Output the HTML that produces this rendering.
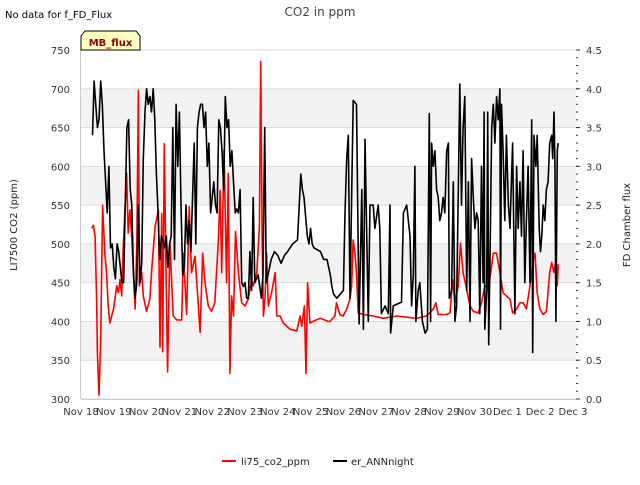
<!DOCTYPE html>
<html><head><meta charset="utf-8"><style>
body{margin:0;background:#fff;}
svg text{font-family:"DejaVu Sans","Liberation Sans",sans-serif;}
</style></head><body>
<svg id="chart" width="640" height="480" xmlns="http://www.w3.org/2000/svg">
<text x="5" y="18" font-size="10" fill="#000">No data for f_FD_Flux</text>
<text x="320" y="16" font-size="12" text-anchor="middle" fill="#444">CO2 in ppm</text>
<g id="bands"></g>
<g id="grid"></g>
<g id="series"></g>
<g id="axes"></g>
<g>
<path d="M81,50 L81,36 L85,31 L136,31 L140,36 L140,50 Z" fill="#ffffc0" stroke="#000" stroke-width="1"/>
<text x="110.5" y="46" font-size="10" font-weight="bold" text-anchor="middle" fill="#8b0000">MB_flux</text>
</g>
<text transform="translate(17,225) rotate(-90)" font-size="10" text-anchor="middle" fill="#222">LI7500 CO2 (ppm)</text>
<text transform="translate(630,225) rotate(-90)" font-size="10" text-anchor="middle" fill="#222">FD Chamber flux</text>
<g>
<g><line x1="222" y1="461" x2="236" y2="461" stroke="#f00" stroke-width="2"/><text x="241" y="465" font-size="10" fill="#222">li75_co2_ppm</text></g>
<g><line x1="333" y1="461" x2="347" y2="461" stroke="#000" stroke-width="2"/><text x="351" y="465" font-size="10" fill="#222">er_ANNnight</text></g>
</g>
</svg>
<script>
const xTickLabels=["Nov 18","Nov 19","Nov 20","Nov 21","Nov 22","Nov 23","Nov 24","Nov 25","Nov 26","Nov 27","Nov 28","Nov 29","Nov 30","Dec 1","Dec 2","Dec 3"];
const leftTicks=[300,350,400,450,500,550,600,650,700,750];
const rightTicks=[0.0,0.5,1.0,1.5,2.0,2.5,3.0,3.5,4.0,4.5];
const redDays=[0.33,0.38,0.43,0.48,0.50,0.55,0.6,0.66,0.73,0.78,0.83,0.88,0.99,1.09,1.14,1.19,1.24,1.29,1.39,1.44,1.49,1.54,1.6,1.65,1.7,1.75,1.78,1.85,1.9,2.0,2.1,2.15,2.26,2.36,2.41,2.46,2.49,2.54,2.59,2.64,2.71,2.81,2.92,3.07,3.12,3.22,3.3,3.37,3.48,3.53,3.63,3.71,3.78,3.88,3.98,4.08,4.19,4.24,4.29,4.36,4.44,4.49,4.54,4.59,4.65,4.71,4.8,4.9,5.0,5.1,5.2,5.25,5.36,5.44,5.48,5.52,5.56,5.61,5.66,5.71,5.81,5.92,5.97,6.07,6.17,6.37,6.58,6.68,6.73,6.81,6.86,6.91,6.98,7.08,7.29,7.54,7.59,7.74,7.79,7.89,7.99,8.1,8.2,8.25,8.3,8.35,8.4,8.45,8.61,8.91,9.22,9.62,10.23,10.54,10.74,10.82,10.89,11.15,11.25,11.33,11.4,11.5,11.57,11.65,11.76,11.86,11.96,12.11,12.21,12.31,12.42,12.49,12.57,12.67,12.77,12.87,12.97,13.08,13.16,13.28,13.38,13.48,13.58,13.69,13.77,13.84,13.91,13.99,14.09,14.19,14.29,14.35,14.42,14.48,14.52,14.55];
const redPpm=[520,524,509,424,359,305,376,550,486,463,420,398,416,446,437,454,433,497,591,514,544,514,463,416,497,698,446,463,433,413,429,463,522,544,367,539,361,629,463,335,503,407,402,402,488,409,548,463,484,450,386,488,450,420,413,424,505,569,463,621,450,591,333,433,407,516,463,424,420,429,454,446,463,522,735,514,407,429,488,420,437,463,407,407,398,390,388,407,394,420,333,450,398,400,404,400,400,407,424,409,407,416,429,446,505,488,463,411,409,407,404,407,404,407,416,424,409,409,411,454,424,446,501,463,441,420,413,411,424,446,443,463,488,488,463,437,433,429,411,416,424,424,416,446,476,488,437,416,409,413,463,476,463,480,446,474];
const blackDays=[0.35,0.4,0.5,0.55,0.6,0.65,0.7,0.75,0.8,0.85,0.9,0.95,1.0,1.05,1.1,1.15,1.25,1.3,1.4,1.45,1.5,1.55,1.6,1.65,1.7,1.75,1.8,1.85,1.9,1.95,2.0,2.05,2.1,2.15,2.2,2.25,2.3,2.35,2.4,2.45,2.5,2.55,2.6,2.65,2.7,2.75,2.8,2.85,2.9,2.95,3.0,3.05,3.1,3.15,3.2,3.25,3.3,3.35,3.45,3.5,3.55,3.6,3.65,3.7,3.75,3.8,3.85,3.9,3.95,4.0,4.05,4.1,4.15,4.2,4.25,4.3,4.35,4.4,4.45,4.5,4.55,4.6,4.65,4.7,4.75,4.8,4.85,4.9,4.95,5.0,5.05,5.1,5.15,5.2,5.25,5.3,5.4,5.5,5.55,5.6,5.65,5.7,5.8,5.9,6.0,6.1,6.2,6.3,6.45,6.6,6.7,6.75,6.8,6.9,6.95,7.0,7.05,7.1,7.3,7.4,7.5,7.6,7.65,7.7,7.8,7.9,8.0,8.05,8.1,8.15,8.2,8.3,8.4,8.48,8.56,8.61,8.66,8.76,8.81,8.91,8.96,9.06,9.11,9.16,9.27,9.37,9.42,9.44,9.52,9.77,9.83,9.93,10.03,10.08,10.13,10.18,10.21,10.28,10.33,10.41,10.49,10.56,10.62,10.66,10.69,10.74,10.79,10.84,10.89,10.94,10.99,11.04,11.09,11.15,11.2,11.23,11.3,11.35,11.4,11.45,11.5,11.55,11.6,11.65,11.7,11.76,11.81,11.86,11.91,11.96,12.01,12.06,12.11,12.16,12.21,12.26,12.29,12.31,12.37,12.4,12.43,12.47,12.52,12.57,12.62,12.67,12.72,12.77,12.79,12.82,12.87,12.92,12.97,13.03,13.08,13.16,13.23,13.28,13.33,13.38,13.43,13.48,13.53,13.58,13.63,13.69,13.74,13.77,13.81,13.87,13.91,13.97,14.01,14.05,14.09,14.14,14.19,14.24,14.29,14.35,14.38,14.42,14.45,14.48,14.52,14.55];
const blackFlux=[3.4,4.1,3.5,3.6,4.1,3.8,3.2,2.8,2.4,3.0,1.95,2.0,1.7,1.55,2.0,1.9,1.5,1.5,3.5,3.6,2.7,2.5,1.6,1.3,1.5,2.5,1.5,1.75,3.1,3.7,4.0,3.8,3.9,3.7,4.0,3.6,2.9,2.4,1.8,2.1,2.05,1.95,2.1,1.7,2.0,2.1,3.5,1.8,3.8,3.0,3.7,2.5,1.6,1.7,2.5,2.0,2.3,1.9,3.3,2.0,3.5,3.7,3.8,3.8,3.5,3.7,3.0,3.3,2.4,2.6,2.8,2.5,2.4,3.6,3.5,3.2,2.7,3.9,3.5,3.6,3.0,3.2,2.8,2.4,2.45,2.4,2.7,1.5,1.45,1.5,1.3,1.3,1.9,1.4,2.6,1.5,1.6,1.3,1.6,3.5,1.5,1.6,1.8,1.9,1.85,1.75,1.85,1.9,2.0,2.05,2.9,2.7,2.6,2.1,2.0,2.2,2.0,1.95,1.9,1.8,1.8,1.6,1.45,1.35,1.3,1.35,1.4,2.4,3.1,3.4,1.3,3.85,3.8,0.97,2.7,0.9,3.35,1.0,2.5,2.5,2.2,2.5,2.2,1.1,1.2,1.1,2.5,0.85,1.2,1.25,2.4,2.5,2.1,1.2,1.6,3.0,1.0,1.4,1.5,1.0,0.85,0.9,3.68,1.0,3.3,3.0,3.2,2.7,2.6,2.3,2.4,2.6,2.4,3.2,3.3,1.3,1.4,2.8,1.0,1.2,2.6,4.06,2.5,3.5,3.9,1.4,2.8,1.0,3.1,2.6,2.2,2.4,2.3,1.1,3.0,1.5,3.7,0.9,1.4,3.7,0.7,1.8,3.5,3.8,3.3,3.9,3.6,4.0,0.9,3.8,3.2,2.3,3.4,2.5,2.2,3.3,1.1,3.0,2.2,2.8,2.1,3.2,1.5,2.3,3.0,1.5,3.6,0.6,3.4,3.0,3.4,2.2,1.9,2.1,2.5,2.3,2.7,2.8,3.3,3.4,3.1,3.7,3.0,1.0,3.2,3.3];

const L=81,R=576,T=50,B=399,pxDay=32.8;
const xS=d=>L+d*pxDay;
const yL=v=>B-(v-300)/450*(B-T);
const yR=v=>B-v/4.5*(B-T);
const NS="http://www.w3.org/2000/svg";
function mk(tag,attrs,parent){const e=document.createElementNS(NS,tag);for(const k in attrs)e.setAttribute(k,attrs[k]);parent.appendChild(e);return e;}
const bands=document.getElementById('bands'),grid=document.getElementById('grid'),axes=document.getElementById('axes'),series=document.getElementById('series');
for(let v=350;v<750;v+=100){
  const r=mk('rect',{x:L,y:yL(v+50),width:R-L,height:yL(v)-yL(v+50),fill:'#f2f2f2'},bands);
  
  
}
leftTicks.forEach(v=>{
  const g=mk('line',{x1:L,x2:R,y1:yL(v),y2:yL(v),stroke:'#dcdcdc','stroke-width':1},grid);
  
  
  const t=mk('text',{x:70,y:yL(v)+4,'font-size':10,'text-anchor':'end',fill:'#333'},axes);t.textContent=v;
  
  
});
rightTicks.forEach(v=>{
  const t=mk('text',{x:586,y:yR(v)+4,'font-size':10,fill:'#333'},axes);t.textContent=v.toFixed(1);
  
  
  mk('line',{x1:R,x2:R+4,y1:yR(v),y2:yR(v),stroke:'#333'},axes);
});
for(let i=0;i<=45;i++){const v=i/10;mk('line',{x1:R,x2:R+2,y1:yR(v),y2:yR(v),stroke:'#333'},axes);}
xTickLabels.forEach((lab,i)=>{
  const t=mk('text',{x:xS(i),y:415,'font-size':10,'text-anchor':'middle',fill:'#333'},axes);t.textContent=lab;
  
  
});
mk('line',{x1:L,x2:R,y1:B+0.5,y2:B+0.5,stroke:'#ccc'},axes);
mk('line',{x1:L-0.5,x2:L-0.5,y1:T,y2:B,stroke:'#ccc'},axes);
const redPath=mk('path',{d:redDays.map((d,i)=>(i?'L':'M')+xS(d).toFixed(1)+','+yL(redPpm[i]).toFixed(1)).join(''),fill:'none',stroke:'#f00','stroke-width':1.6,'stroke-linejoin':'round'},series);


const blackPath=mk('path',{d:blackDays.map((d,i)=>(i?'L':'M')+xS(d).toFixed(1)+','+yR(blackFlux[i]).toFixed(1)).join(''),fill:'none',stroke:'#000','stroke-width':1.6,'stroke-linejoin':'round'},series);


</script>
</body></html>
